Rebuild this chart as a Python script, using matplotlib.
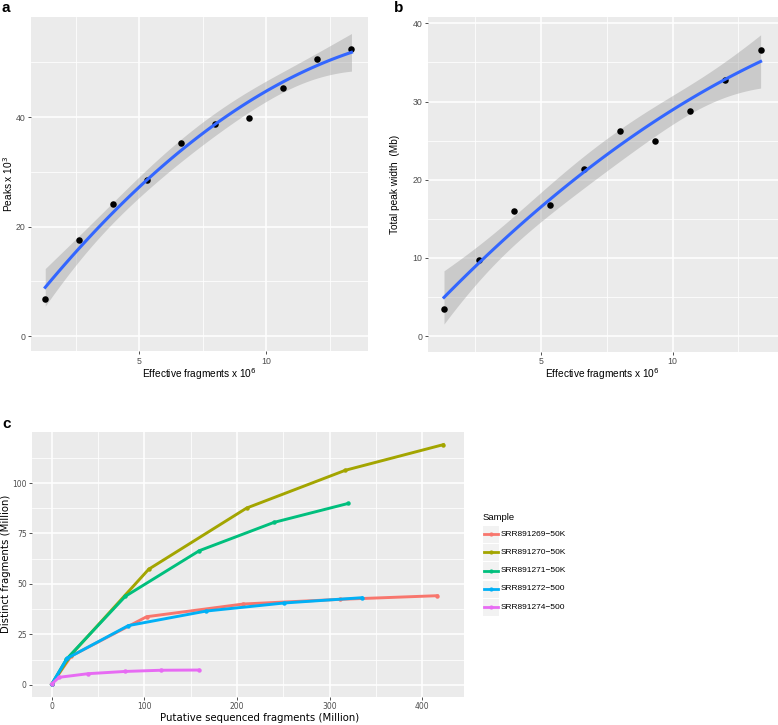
import numpy as np
import matplotlib
matplotlib.use("Agg")
import matplotlib.pyplot as plt
from matplotlib.patches import Rectangle
from matplotlib.lines import Line2D

# ---------------- data ----------------
eff_frag = [1.31, 2.65, 3.99, 5.33, 6.65, 7.99, 9.33, 10.67, 12.0, 13.35]
peaks = [6.8, 17.6, 24.2, 28.5, 35.3, 38.8, 39.8, 45.4, 50.7, 52.5]
peak_width = [3.4, 9.7, 16.0, 16.8, 21.4, 26.2, 24.9, 28.8, 32.7, 36.6]

samples = ["SRR891269\u221250K", "SRR891270\u221250K", "SRR891271\u221250K",
           "SRR891272\u2212500", "SRR891274\u2212500"]
colors = ["#F8766D", "#A3A500", "#00BF7D", "#00B0F6", "#E76BF3"]
put_x = [
    [0, 21, 102.5, 207, 311, 416],
    [0, 21, 104.7, 210.4, 316.9, 422.7],
    [0, 16, 79.5, 159.4, 239.9, 320.1],
    [0, 16.7, 82.7, 166.7, 251, 334.7],
    [0, 8, 39.5, 79, 118.3, 158.6],
]
dist_y = [
    [0.3, 14.3, 33.8, 40.1, 42.4, 44.2],
    [0.3, 15.0, 57.3, 87.6, 106.3, 119.0],
    [0.3, 12.8, 43.9, 66.5, 80.5, 89.9],
    [0.3, 13.2, 29.4, 36.6, 40.6, 43.2],
    [0.5, 3.8, 5.6, 6.7, 7.3, 7.4],
]

# ---------------- helpers ----------------
def quad_fit(x, y, xs):
    x = np.asarray(x, float); y = np.asarray(y, float)
    X = np.column_stack([np.ones_like(x), x, x ** 2])
    beta, *_ = np.linalg.lstsq(X, y, rcond=None)
    n, p = X.shape
    resid = y - X @ beta
    sigma2 = np.sum(resid ** 2) / (n - p)
    XtXi = np.linalg.inv(X.T @ X)
    Xs = np.column_stack([np.ones_like(xs), xs, xs ** 2])
    fit = Xs @ beta
    se = np.sqrt(sigma2 * np.einsum("ij,jk,ik->i", Xs, XtXi, Xs))
    t = 2.365  # t(0.975, df=7)
    return fit, fit - t * se, fit + t * se

BG = "#EBEBEB"
TICKC = "#4D4D4D"

def style_ax(ax, fs=6.3):
    ax.set_facecolor(BG)
    for s in ax.spines.values():
        s.set_visible(False)
    ax.grid(True, which="major", color="white", lw=1.1)
    ax.grid(True, which="minor", color="white", lw=0.55)
    ax.set_axisbelow(True)
    ax.tick_params(which="major", length=2.5, width=0.6, color="#333333",
                   labelcolor=TICKC, labelsize=fs, pad=1.5)
    ax.tick_params(which="minor", length=0)

W, H = 778, 725
fig = plt.figure(figsize=(W / 100, H / 100), dpi=100)
plt.rcParams['font.family'] = ['Liberation Sans', 'DejaVu Sans']

def axes_px(l, t, r, b):
    return fig.add_axes([l / W, 1 - b / H, (r - l) / W, (b - t) / H])

# ---------------- panel a ----------------
axa = axes_px(31, 17, 368, 351)
style_ax(axa)
xs = np.linspace(min(eff_frag), max(eff_frag), 120)
f, lo, hi = quad_fit(eff_frag, peaks, xs)
axa.fill_between(xs, lo, hi, color="#999999", alpha=0.4, lw=0)
axa.scatter(eff_frag, peaks, s=22, color="black", zorder=3, lw=0)
axa.plot(xs, f, color="#3366FF", lw=2.2, zorder=4)
axa.set_xlim(0.75, 14.0)
axa.set_ylim(-2.7, 58.3)
axa.set_xticks([5, 10]); axa.set_xticks([2.5, 7.5, 12.5], minor=True)
axa.set_yticks([0, 20, 40]); axa.set_yticks([10, 30, 50], minor=True)
fig.text(199 / W, 1 - 374 / H, "Effective fragments x 10$^{6}$", ha="center", va="center", fontsize=7.3)
fig.text(8 / W, 1 - 184 / H, "Peaks x 10$^{3}$", ha="center", va="center", fontsize=7.3, rotation=90)
fig.text(2 / W, 1 - 8 / H, "a", ha="left", va="center", fontsize=11, fontweight="bold")

# ---------------- panel b ----------------
axb = axes_px(427.7, 16.7, 777.7, 351.7)
style_ax(axb)
f, lo, hi = quad_fit(eff_frag, peak_width, xs)
axb.fill_between(xs, lo, hi, color="#999999", alpha=0.4, lw=0)
axb.scatter(eff_frag, peak_width, s=22, color="black", zorder=3, lw=0)
axb.plot(xs, f, color="#3366FF", lw=2.2, zorder=4)
axb.set_xlim(0.69, 14.0)
axb.set_ylim(-2.0, 40.85)
axb.set_xticks([5, 10]); axb.set_xticks([2.5, 7.5, 12.5], minor=True)
axb.set_yticks([0, 10, 20, 30, 40]); axb.set_yticks([5, 15, 25, 35], minor=True)
fig.text(602 / W, 1 - 374 / H, "Effective fragments x 10$^{6}$", ha="center", va="center", fontsize=7.3)
fig.text(395 / W, 1 - 184 / H, "Total peak width  (Mb)", ha="center", va="center", fontsize=7.3, rotation=90)
fig.text(394 / W, 1 - 8 / H, "b", ha="left", va="center", fontsize=11, fontweight="bold")

# ---------------- panel c ----------------
axc = axes_px(32.3, 431.7, 464.3, 696.7)
style_ax(axc, fs=5.5)
for xv, yv, c, lab in zip(put_x, dist_y, colors, samples):
    axc.plot(xv, yv, color=c, lw=2.1, marker="o", ms=3.2, mew=0, label=lab)
axc.set_xlim(-20.9, 445.3)
axc.set_ylim(-5.8, 125.4)
axc.set_xticks([0, 100, 200, 300, 400]); axc.set_xticks([50, 150, 250, 350], minor=True)
axc.set_yticks([0, 25, 50, 75, 100]); axc.set_yticks([12.5, 37.5, 62.5, 87.5, 112.5], minor=True)
for lab in axc.get_xticklabels() + axc.get_yticklabels():
    lab.set_family("DejaVu Sans")
fig.text(260 / W, 1 - 718 / H, "Putative sequenced fragments (Million)", ha="center", va="center",
         fontsize=7.3, family="DejaVu Sans")
fig.text(6 / W, 1 - 564 / H, "Distinct fragments (Million)", ha="center", va="center",
         fontsize=7.3, family="DejaVu Sans", rotation=90)
fig.text(2 / W, 1 - 424 / H, "c", ha="left", va="center", fontsize=11, fontweight="bold")

# legend
fig.text(483 / W, 1 - 517 / H, "Sample", ha="left", va="center", fontsize=6.8)
key_y = [534, 552.3, 570.7, 589, 607.3]
for yk, c, lab in zip(key_y, colors, samples):
    fig.patches.append(Rectangle(((483) / W, 1 - (yk + 8.5) / H), 16 / W, 17 / H,
                                 transform=fig.transFigure, facecolor="#F2F2F2", edgecolor="none"))
    fig.lines.append(Line2D([484 / W, 498 / W], [1 - yk / H, 1 - yk / H], transform=fig.transFigure,
                            color=c, lw=2.0))
    fig.lines.append(Line2D([491 / W], [1 - yk / H], transform=fig.transFigure, color=c,
                            marker="o", ms=3, mew=0))
    fig.text(501 / W, 1 - yk / H, lab, ha="left", va="center", fontsize=6)

fig.savefig("out.png", dpi=100)
